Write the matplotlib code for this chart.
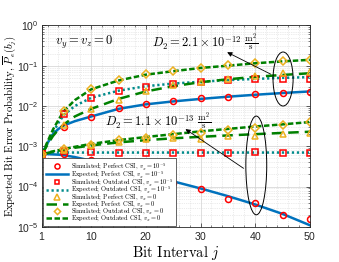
import matplotlib
matplotlib.use("Agg")
import matplotlib.pyplot as plt
from matplotlib.patches import Ellipse
from matplotlib.ticker import FixedLocator, MultipleLocator, LogLocator, NullFormatter

plt.rcParams['mathtext.fontset'] = 'cm'
plt.rcParams['font.family'] = ['cmr10', 'DejaVu Serif']
plt.rcParams['axes.formatter.use_mathtext'] = True

# ---------------- data ----------------
j_exp = [1, 2, 3, 4, 5, 7, 10, 15, 20, 25, 30, 35, 40, 45, 50]
j_sim = [1, 5, 10, 15, 20, 25, 30, 35, 40, 45, 50]

# D2 = 2.1e-12 (upper group)
hi_exp_perfect_v5 = [6.3e-4, 1.2e-3, 2.0e-3, 2.7e-3, 3.3e-3, 4.2e-3, 5.5e-3, 8.5e-3, 1.1e-2, 1.3e-2, 1.5e-2, 1.7e-2, 1.9e-2, 2.1e-2, 2.3e-2]
hi_exp_outdated_v5 = [6.3e-4, 1.2e-3, 2.2e-3, 3.8e-3, 6.0e-3, 1.0e-2, 1.6e-2, 2.4e-2, 3.1e-2, 3.6e-2, 4.0e-2, 4.4e-2, 4.7e-2, 5.0e-2, 5.2e-2]
hi_exp_perfect_v0 = [6.3e-4, 1.1e-3, 1.8e-3, 2.6e-3, 3.5e-3, 5.5e-3, 8.5e-3, 1.5e-2, 2.3e-2, 3.1e-2, 3.9e-2, 4.6e-2, 5.3e-2, 5.9e-2, 6.5e-2]
hi_exp_outdated_v0 = [6.3e-4, 1.3e-3, 2.6e-3, 4.5e-3, 7.5e-3, 1.4e-2, 2.6e-2, 4.3e-2, 6.0e-2, 7.3e-2, 8.8e-2, 1.0e-1, 1.15e-1, 1.28e-1, 1.4e-1]

hi_sim_perfect_v5 = [6.3e-4, 3.1e-3, 5.3e-3, 8.9e-3, 1.1e-2, 1.3e-2, 1.55e-2, 1.7e-2, 1.95e-2, 2.05e-2, 2.2e-2]
hi_sim_outdated_v5 = [6.3e-4, 6.5e-3, 1.6e-2, 2.3e-2, 3.0e-2, 3.6e-2, 3.9e-2, 4.3e-2, 4.6e-2, 4.7e-2, 4.7e-2]
hi_sim_perfect_v0 = [6.3e-4, 3.3e-3, 8.5e-3, 1.4e-2, 2.3e-2, 3.4e-2, 4.0e-2, 4.6e-2, 5.6e-2, 6.5e-2, 6.8e-2]
hi_sim_outdated_v0 = [6.3e-4, 7.5e-3, 2.6e-2, 4.3e-2, 6.4e-2, 7.2e-2, 9.0e-2, 1.05e-1, 1.2e-1, 1.32e-1, 1.4e-1]

# D2 = 1.1e-13 (lower group)
lo_exp_perfect_v5 = [6.3e-4, 6.4e-4, 6.3e-4, 6.2e-4, 6.0e-4, 5.4e-4, 4.4e-4, 3.0e-4, 2.0e-4, 1.35e-4, 9.0e-5, 5.8e-5, 3.6e-5, 2.1e-5, 1.1e-5]
lo_exp_outdated_v5 = [6.3e-4, 6.8e-4, 7.0e-4, 7.0e-4, 7.0e-4, 7.0e-4, 7.0e-4, 7.0e-4, 7.0e-4, 7.0e-4, 7.0e-4, 7.0e-4, 7.0e-4, 7.0e-4, 7.0e-4]
lo_exp_perfect_v0 = [6.3e-4, 6.8e-4, 7.3e-4, 7.8e-4, 8.2e-4, 9.2e-4, 1.05e-3, 1.25e-3, 1.42e-3, 1.58e-3, 1.72e-3, 1.86e-3, 2.0e-3, 2.15e-3, 2.3e-3]
lo_exp_outdated_v0 = [6.3e-4, 6.9e-4, 7.5e-4, 8.0e-4, 8.5e-4, 9.7e-4, 1.15e-3, 1.42e-3, 1.7e-3, 2.0e-3, 2.35e-3, 2.7e-3, 3.1e-3, 3.5e-3, 4.0e-3]

lo_sim_perfect_v5 = [6.3e-4, 6.5e-4, 4.5e-4, 3.1e-4, 2.0e-4, 1.26e-4, 8.9e-5, 4.9e-5, 4.0e-5, 2.0e-5, 1.55e-5]
lo_sim_outdated_v5 = [6.3e-4, 7.5e-4, 7.3e-4, 7.0e-4, 6.9e-4, 7.0e-4, 7.0e-4, 7.0e-4, 7.2e-4, 7.0e-4, 7.0e-4]
lo_sim_perfect_v0 = [6.3e-4, 8.3e-4, 1.1e-3, 1.3e-3, 1.5e-3, 1.6e-3, 1.5e-3, 1.8e-3, 1.85e-3, 2.0e-3, 2.2e-3]
lo_sim_outdated_v0 = [6.3e-4, 8.5e-4, 1.1e-3, 1.4e-3, 1.65e-3, 1.9e-3, 2.1e-3, 2.5e-3, 2.9e-3, 3.4e-3, 4.1e-3]

x_ticks = [1, 10, 20, 30, 40, 50]
legend_labels = [
    r"Simulated; Perfect CSI, $v_x = 10^{-5}$",
    r"Expected; Perfect CSI, $v_x = 10^{-5}$",
    r"Simulated; Outdated CSI, $v_x = 10^{-5}$",
    r"Expected; Outdated CSI, $v_x = 10^{-5}$",
    r"Simulated; Perfect CSI, $v_x = 0$",
    r"Expected; Perfect CSI, $v_x = 0$",
    r"Simulated; Outdated CSI, $v_x = 0$",
    r"Expected; Outdated CSI, $v_x = 0$",
]

# ---------------- styles ----------------
BLUE = '#0072BD'
TEAL = '#008B8B'
GREEN = '#008000'
RED = '#FF0000'
ORANGE = '#EDB120'
LW = 1.8
MS = 4.3
MEW = 1.1

fig = plt.figure(figsize=(3.39, 2.62), dpi=100)
ax = fig.add_axes([0.124, 0.134, 0.790, 0.769])

handles = []
for k, (sim_pv5, exp_pv5, sim_ov5, exp_ov5, sim_pv0, exp_pv0, sim_ov0, exp_ov0) in enumerate([
        (hi_sim_perfect_v5, hi_exp_perfect_v5, hi_sim_outdated_v5, hi_exp_outdated_v5,
         hi_sim_perfect_v0, hi_exp_perfect_v0, hi_sim_outdated_v0, hi_exp_outdated_v0),
        (lo_sim_perfect_v5, lo_exp_perfect_v5, lo_sim_outdated_v5, lo_exp_outdated_v5,
         lo_sim_perfect_v0, lo_exp_perfect_v0, lo_sim_outdated_v0, lo_exp_outdated_v0)]):
    h2, = ax.plot(j_exp, exp_pv5, '-', color=BLUE, lw=LW)
    h4, = ax.plot(j_exp, exp_ov5, color=TEAL, lw=LW, dashes=(0.9, 1.1))
    h6, = ax.plot(j_exp, exp_pv0, color=GREEN, lw=LW, dashes=(4.2, 2.4))
    h8, = ax.plot(j_exp, exp_ov0, color=GREEN, lw=LW, dashes=(2.2, 1.0))
    h1, = ax.plot(j_sim, sim_pv5, 'o', ls='none', mfc='none', mec=RED, ms=MS, mew=MEW)
    h3, = ax.plot(j_sim, sim_ov5, 's', ls='none', mfc='none', mec=RED, ms=MS - 0.5, mew=MEW)
    h5, = ax.plot(j_sim, sim_pv0, '^', ls='none', mfc='none', mec=ORANGE, ms=MS + 0.5, mew=MEW)
    h7, = ax.plot(j_sim, sim_ov0, 'D', ls='none', mfc='none', mec=ORANGE, ms=MS - 0.6, mew=MEW)
    if k == 0:
        handles = [h1, h2, h3, h4, h5, h6, h7, h8]

ax.set_yscale('log')
ax.set_xlim(1, 50)
ax.set_ylim(1e-5, 1)
ax.xaxis.set_major_locator(FixedLocator(x_ticks))
ax.xaxis.set_minor_locator(MultipleLocator(2))
ax.yaxis.set_major_locator(LogLocator(base=10, numticks=10))
ax.yaxis.set_minor_locator(LogLocator(base=10, subs=range(2, 10), numticks=20))
ax.yaxis.set_minor_formatter(NullFormatter())

ax.grid(True, which='major', color='#d0d0d0', lw=0.5, ls='-')
ax.grid(True, which='minor', color='#d8d8d8', lw=0.5, ls=':')
ax.set_axisbelow(True)
ax.tick_params(which='both', direction='in', top=True, right=True, colors='#262626')
ax.tick_params(which='major', length=3, width=0.5, labelsize=7.5, pad=2.5)
ax.tick_params(which='minor', length=1.5, width=0.4)
for lab in ax.get_xticklabels() + ax.get_yticklabels():
    lab.set_fontfamily('Liberation Sans')
for s in ax.spines.values():
    s.set_color('#262626')
    s.set_linewidth(0.6)

ax.set_xlabel(r"Bit Interval $j$", fontsize=10.5, labelpad=1)
ax.set_ylabel(r"Expected Bit Error Probability, $\overline{P}_e(b_j)$", fontsize=7.7)
ax.yaxis.set_label_coords(-0.088, 0.5)

# annotations
ax.text(3.4, 0.37, r"$v_y = v_z = 0$", fontsize=9, va='center', ha='left')
ax.text(21.1, 0.37, r"$D_2 = 2.1 \times 10^{-12}\ \frac{\mathrm{m}^2}{\mathrm{s}}$", fontsize=9, va='center', ha='left')
ax.text(12.5, 4.1e-3, r"$D_2 = 1.1 \times 10^{-13}\ \frac{\mathrm{m}^2}{\mathrm{s}}$", fontsize=9, va='center', ha='left')

ax.add_patch(Ellipse((0.900, 0.734), 0.075, 0.268, transform=ax.transAxes,
                     fill=False, ec='black', lw=0.7, zorder=5))
ax.add_patch(Ellipse((0.800, 0.305), 0.078, 0.49, transform=ax.transAxes,
                     fill=False, ec='black', lw=0.7, zorder=5))
ax.annotate('', xy=(0.682, 0.873), xytext=(0.863, 0.752), xycoords='axes fraction',
            arrowprops=dict(arrowstyle='-|>', color='black', lw=0.6, mutation_scale=7))
ax.annotate('', xy=(0.527, 0.493), xytext=(0.761, 0.283), xycoords='axes fraction',
            arrowprops=dict(arrowstyle='-|>', color='black', lw=0.6, mutation_scale=7))

leg = ax.legend(handles, legend_labels, loc='lower left', bbox_to_anchor=(0.0, 0.0),
                fontsize=4.6, labelspacing=-0.42, handlelength=3.5, handletextpad=0.4,
                borderpad=0.45, borderaxespad=0.15, framealpha=1, fancybox=False,
                edgecolor='#262626', markerscale=0.85)
leg.get_frame().set_linewidth(0.5)
leg.set_zorder(10)

fig.savefig('out.png', dpi=100)
